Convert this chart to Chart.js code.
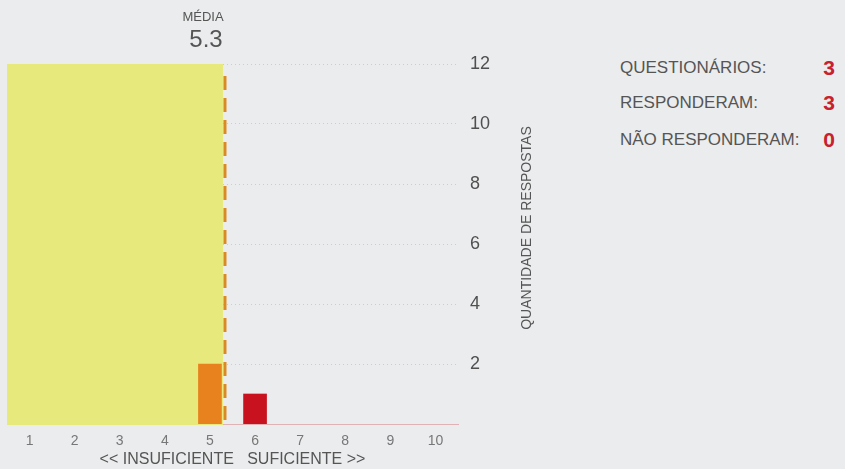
<!DOCTYPE html>
<html>
<head>
<meta charset="utf-8">
<script src="https://cdn.jsdelivr.net/npm/chart.js"></script>
<style>
  html, body { margin: 0; padding: 0; background: #ebeced; }
  body { width: 845px; height: 469px; position: relative; overflow: hidden; font-family: "Liberation Sans", Arial, sans-serif; }
  #wrap { position: absolute; left: 0; top: 0; width: 560px; height: 469px; }
  .stat { position: absolute; left: 620px; width: 220px; height: 24px; line-height: 24px; font-size: 17px; color: #555; }
  .stat b { position: absolute; right: 5px; top: 0; font-size: 21px; color: #c8202c; }
</style>
<title>Respostas</title>
</head>
<body>
<div id="wrap"><canvas id="chart"></canvas></div>
<div id="stats"></div>

<script>
    // notas 1..10 e quantidade de respostas em cada nota
    const categories = ['1', '2', '3', '4', '5', '6', '7', '8', '9', '10'];
    const responses = [0, 0, 0, 0, 2, 1, 0, 0, 0, 0];
    const yTicks = [2, 4, 6, 8, 10, 12];
    const statLabels = ['QUESTIONÁRIOS:', 'RESPONDERAM:', 'NÃO RESPONDERAM:'];
    const statValues = [3, 3, 0];

    var total = responses.reduce((a, b) => a + b, 0);
    var mean = responses.reduce((a, c, i) => a + c * Number(categories[i]), 0) / total;

    var statsDiv = document.getElementById('stats');
    var statRows = [56, 91, 128];
    for (var i = 0; i < statLabels.length; i++) {
        var d = document.createElement('div');
        d.className = 'stat';
        d.style.top = statRows[i] + 'px';
        d.innerHTML = statLabels[i] + '<b>' + statValues[i] + '</b>';
        statsDiv.appendChild(d);
    }

    var meanPlugin = {
        id: 'meanPlugin',
        beforeDatasetsDraw(chart) {
            var ctx = chart.ctx, x = chart.scales.x, y = chart.scales.y;
            var mx = x.getPixelForValue(mean - 1);
            ctx.save();
            ctx.fillStyle = 'rgb(232,233,125)';
            ctx.fillRect(chart.chartArea.left, y.getPixelForValue(12), mx - 2 - chart.chartArea.left,
                         y.getPixelForValue(0) - y.getPixelForValue(12) + 1);
            ctx.restore();
        },
        afterDatasetsDraw(chart) {
            var ctx = chart.ctx, x = chart.scales.x, y = chart.scales.y;
            var mx = x.getPixelForValue(mean - 1);
            ctx.save();
            ctx.strokeStyle = '#da8a22';
            ctx.lineWidth = 3;
            ctx.setLineDash([14, 8]);
            ctx.beginPath();
            ctx.moveTo(mx, y.getPixelForValue(12) + 12);
            ctx.lineTo(mx, y.getPixelForValue(0));
            ctx.stroke();
            ctx.setLineDash([]);

            ctx.fillStyle = '#555';
            ctx.textAlign = 'center';
            ctx.textBaseline = 'middle';
            ctx.font = '13px "Liberation Sans", Arial, sans-serif';
            ctx.fillText('MÉDIA', mx - 22, 17);
            ctx.font = '24px "Liberation Sans", Arial, sans-serif';
            ctx.fillText(mean.toFixed(1), mx - 19, 40);

            // titulo do eixo y
            ctx.translate(527, 228);
            ctx.rotate(-Math.PI / 2);
            ctx.font = '14px "Liberation Sans", Arial, sans-serif';
            ctx.fillText('QUANTIDADE DE RESPOSTAS', 0, 0);
            ctx.restore();
        }
    };

    var ctx = document.getElementById('chart');
    var barChart = new Chart(ctx, {
        type: 'bar',
        data: {
            labels: categories,
            datasets: [{
                label: 'respostas',
                data: responses.map(v => v || null),
                backgroundColor: (c) => c.dataIndex < 5 ? '#e8821e' : '#c8121f',
                barThickness: 23,
                borderWidth: 0,
            }]
        },
        options: {
            responsive: true,
            maintainAspectRatio: false,
            animation: false,
            layout: { padding: { left: 7, top: 64, right: 0, bottom: 0 } },
            plugins: {
                legend: { display: false },
                tooltip: { enabled: false },
            },
            scales: {
                x: {
                    grid: { display: false },
                    border: { display: true, color: 'rgba(215,120,125,0.5)', width: 1 },
                    ticks: {
                        color: '#777',
                        padding: 1,
                        font: { family: '"Liberation Sans", Arial, sans-serif', size: 14 }
                    },
                    title: {
                        display: true,
                        text: '<< INSUFICIENTE   SUFICIENTE >>',
                        color: '#555',
                        padding: 0,
                        font: { family: '"Liberation Sans", Arial, sans-serif', size: 16 }
                    },
                    afterFit: (s) => { s.height = 45; }
                },
                y: {
                    position: 'right',
                    min: 0,
                    max: 12,
                    afterBuildTicks: (s) => { s.ticks = yTicks.map(v => ({ value: v })); },
                    grid: {
                        drawTicks: false,
                        color: 'rgba(185,185,185,0.6)',
                        lineWidth: 1,
                    },
                    border: { display: false, dash: [1, 3] },
                    ticks: {
                        color: '#505050',
                        padding: 12,
                        font: { family: '"Liberation Sans", Arial, sans-serif', size: 18 }
                    },
                    afterFit: (s) => { s.width = 102; }
                }
            }
        },
        plugins: [meanPlugin]
    });
</script>
</body>
</html>
